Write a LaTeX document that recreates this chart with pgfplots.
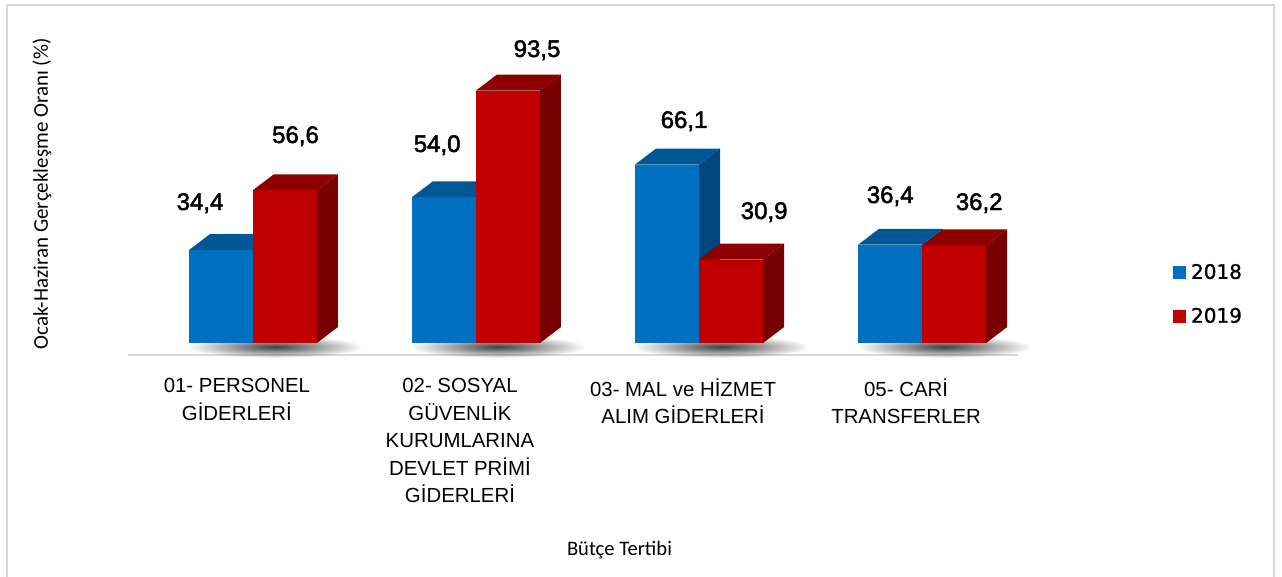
\documentclass[border=0pt]{standalone}
\usepackage{pgfplots}
\pgfplotsset{compat=1.18}
\usetikzlibrary{fadings}
\usepackage{fontspec}
\setmainfont{Liberation Sans}
\newfontfamily\valfont[FakeBold=2]{Liberation Sans}
\newfontfamily\calib{Carlito}
\newfontfamily\legfont[FakeBold=1.2]{DejaVu Sans}
\definecolor{bfront}{HTML}{0070C0}
\definecolor{btop}{HTML}{005797}
\definecolor{bside}{HTML}{00477F}
\definecolor{rfront}{HTML}{C00000}
\definecolor{rtop}{HTML}{8E0000}
\definecolor{rside}{HTML}{780000}
\definecolor{frame}{HTML}{D9D9D9}
\tikzfading[name=shadowfade, inner color=transparent!25, outer color=transparent!100]
\def\bw{0.287}\def\bdx{0.094}\def\bdy{5.9}
\newcommand\tdbar[3]{%
 \pgfmathsetmacro\xa{#1}%
 \pgfmathsetmacro\xb{#1+\bw}%
 \pgfmathsetmacro\xc{#1+\bdx}%
 \pgfmathsetmacro\xd{#1+\bw+\bdx}%
 \pgfmathsetmacro\yt{#2+\bdy}%
 \edef\tmp{%
 \noexpand\addplot[forget plot, fill=#3side, draw=none, mark=none] coordinates {(\xb,0) (\xd,\bdy) (\xd,\yt) (\xb,#2)} -- cycle;
 \noexpand\addplot[forget plot, fill=#3front, draw=none, mark=none] coordinates {(\xa,0) (\xb,0) (\xb,#2) (\xa,#2)} -- cycle;
 \noexpand\addplot[forget plot, fill=#3top, draw=none, mark=none] coordinates {(\xa,#2) (\xb,#2) (\xd,\yt) (\xc,\yt)} -- cycle;
 }\tmp}
\begin{document}
\begin{tikzpicture}
\useasboundingbox (0,0) rectangle (641bp,288.5bp);
\draw[frame, line width=1bp] (3.5bp,-5bp) rectangle (637bp,286bp);
\begin{axis}[
 at={(64bp,111bp)}, anchor=south west, scale only axis,
 width=445bp, height=154.5bp,
 xmin=-0.56, xmax=3.43, ymin=-4.44, ymax=110,
 axis y line=none, axis x line*=bottom,
 x axis line style={draw=frame, line width=1.2bp, -},
 xtick={0,1,2,3}, major tick length=0pt,
 xticklabels={{01- PERSONEL\\GİDERLERİ},{02- SOSYAL\\GÜVENLİK\\KURUMLARINA\\DEVLET PRİMİ\\GİDERLERİ},{03- MAL ve HİZMET\\ALIM GİDERLERİ},{05- CARİ\\TRANSFERLER}},
 xticklabel style={font=\fontsize{10.2bp}{13.75bp}\selectfont, align=center, xshift=-8bp, yshift=-8.3bp},
 clip=false,
 legend style={at={(axis description cs:1.1742,0.2945)}, anchor=north west, draw=none, fill=none, inner sep=0pt, outer sep=0pt, row sep=13bp, font=\legfont\fontsize{10bp}{10bp}\selectfont, nodes={inner sep=0pt}, /tikz/every odd column/.style={column sep=2.5bp}},
 legend cell align=left,
 legend image code/.code={\fill[#1] (0bp,-3.25bp) rectangle (6.5bp,3.25bp);},
]
\pgfplotsinvokeforeach{0,1,2,3}{
 \fill[black, path fading=shadowfade] (axis cs:#1+0.1,-1.4) ellipse (44bp and 5.5bp);
}
\tdbar{-0.287}{34.4}{b}
\tdbar{0}{56.6}{r}
\tdbar{0.713}{54.0}{b}
\tdbar{1}{93.5}{r}
\tdbar{1.713}{66.1}{b}
\tdbar{2}{30.9}{r}
\tdbar{2.713}{36.4}{b}
\tdbar{3}{36.2}{r}
\addlegendimage{fill=bfront, draw=none}
\addlegendentry{2018}
\addlegendimage{fill=rfront, draw=none}
\addlegendentry{2019}
\begin{scope}[every node/.style={anchor=base, inner sep=0pt, font=\valfont\fontsize{12bp}{14bp}\selectfont}]
\node at (axis cs:-0.237,49.26) {34,4};
\node at (axis cs:0.191,74.07) {56,6};
\node at (axis cs:0.826,70.74) {54,0};
\node at (axis cs:1.274,105.93) {93,5};
\node at (axis cs:1.933,79.63) {66,1};
\node at (axis cs:2.292,45.93) {30,9};
\node at (axis cs:2.857,51.85) {36,4};
\node at (axis cs:3.256,49.26) {36,2};
\end{scope}
\end{axis}
\node[rotate=90, font=\calib\fontsize{10.5bp}{12bp}\selectfont] at (21bp,191.5bp) {Ocak-Haziran Gerçekleşme Oranı (\%)};
\node[font=\calib\fontsize{10.3bp}{12bp}\selectfont] at (309.75bp,13.5bp) {Bütçe Tertibi};
\end{tikzpicture}
\end{document}
